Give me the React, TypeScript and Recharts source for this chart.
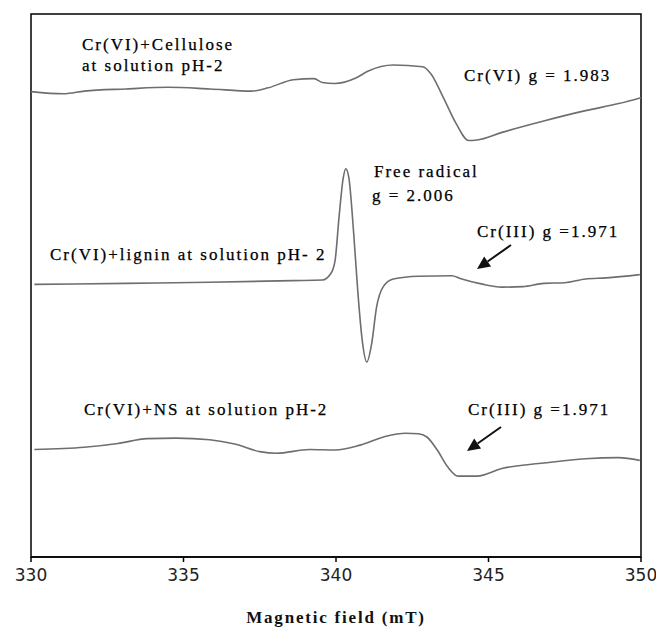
import { LineChart, Line, XAxis, YAxis, Label, ReferenceArea } from 'recharts'

// EPR spectra of Cr(VI) bound to cellulose, lignin and NS (pH 2), intensity in arbitrary units
const fieldTicks = [330, 335, 340, 345, 350]

const fieldCellulose = [330.0, 331.07, 331.75, 333.12, 334.49, 335.86, 337.23, 337.78, 338.6, 339.28, 339.55, 339.96, 340.65, 341.06, 341.88, 342.84, 343.11, 343.52, 343.94, 344.35, 344.62, 345.44, 346.81, 348.18, 349.27, 350.0]
const intensityCellulose = [85.7, 85.3, 85.8, 86.2, 86.5, 86.2, 85.8, 86.4, 87.9, 88.1, 87.4, 87.2, 88.2, 89.5, 90.6, 90.3, 89.0, 84.6, 79.8, 76.7, 76.8, 78.2, 80.3, 82.2, 83.5, 84.6]

const fieldLignin = [330.11, 333.12, 335.86, 338.6, 339.55, 339.83, 339.97, 340.1, 340.24, 340.32, 340.42, 340.58, 340.72, 340.86, 341.01, 341.17, 341.33, 341.54, 341.88, 342.7, 343.8, 344.07, 344.76, 345.44, 346.13, 346.81, 347.49, 348.18, 348.86, 349.96]
const intensityLignin = [50.2, 50.4, 50.6, 50.9, 51.0, 52.2, 54.6, 62.6, 69.9, 71.5, 69.9, 59.6, 48.5, 39.9, 35.9, 39.3, 46.0, 49.7, 51.2, 51.7, 51.8, 51.3, 50.3, 49.7, 49.8, 50.4, 50.5, 51.2, 51.4, 52.0]

const fieldNS = [330.11, 331.75, 332.85, 333.81, 334.76, 335.86, 336.68, 337.5, 338.05, 339.14, 339.97, 340.79, 341.61, 342.29, 342.7, 342.98, 343.32, 343.66, 344.0, 344.62, 345.44, 346.81, 348.18, 349.27, 349.96]
const intensityNS = [19.8, 20.2, 20.9, 21.8, 21.9, 21.6, 20.8, 19.4, 19.1, 19.8, 19.7, 20.6, 22.2, 22.8, 22.7, 22.1, 19.7, 16.6, 14.9, 14.9, 16.3, 17.3, 18.1, 18.3, 17.8]

const toPoints = (fields: number[], values: number[]) =>
  fields.map((field, i) => ({ field, intensity: values[i] }))

const serif = {
  fontFamily: '"Liberation Serif", "Times New Roman", serif',
  fontSize: 17,
  letterSpacing: 2,
  fill: '#000',
  stroke: '#000',
  strokeWidth: 0.25,
}

function Note({ x, y, children }: { x: number; y: number; children: string }) {
  return (
    <text x={x} y={y} style={serif}>
      {children}
    </text>
  )
}

function Arrow({ x1, y1, x2, y2 }: { x1: number; y1: number; x2: number; y2: number }) {
  // arrow head sits at (x2, y2)
  const ang = Math.atan2(y2 - y1, x2 - x1)
  const len = 13
  const w = 6
  const bx = x2 - len * Math.cos(ang)
  const by = y2 - len * Math.sin(ang)
  const px = -Math.sin(ang) * w
  const py = Math.cos(ang) * w
  return (
    <g>
      <line x1={x1} y1={y1} x2={bx} y2={by} stroke="#111" strokeWidth={2} />
      <polygon points={`${x2},${y2} ${bx + px},${by + py} ${bx - px},${by - py}`} fill="#111" />
    </g>
  )
}

export default function App() {
  const cellulose = toPoints(fieldCellulose, intensityCellulose)
  const lignin = toPoints(fieldLignin, intensityLignin)
  const ns = toPoints(fieldNS, intensityNS)

  return (
    <div style={{ position: 'absolute', left: 0, top: 0, width: 656, height: 628, background: '#fff' }}>
      <LineChart width={656} height={628} margin={{ top: 14, right: 15, left: 31, bottom: 0 }}>
        <XAxis
          type="number"
          dataKey="field"
          domain={[330, 350]}
          ticks={fieldTicks}
          allowDataOverflow
          height={71}
          tickSize={5}
          tickMargin={7}
          axisLine={{ stroke: '#000', strokeWidth: 1.5 }}
          tickLine={{ stroke: '#000', strokeWidth: 1.5 }}
          tick={{ fill: '#222', fontSize: 17, fontFamily: '"DejaVu Sans", sans-serif' }}
        >
          <Label
            value="Magnetic field (mT)"
            position="insideBottom"
            offset={5}
            style={{ fontFamily: '"Liberation Serif", serif', fontSize: 17, fontWeight: 700, letterSpacing: 1.8, fill: '#111' }}
          />
        </XAxis>
        <YAxis type="number" domain={[0, 100]} hide />

        <ReferenceArea x1={330} x2={350} y1={0} y2={100} fill="none" fillOpacity={0} stroke="#000" strokeWidth={1.5} />

        <Line data={cellulose} dataKey="intensity" type="monotone" stroke="#6e6e6e" strokeWidth={1.6} dot={false} isAnimationActive={false} />
        <Line data={lignin} dataKey="intensity" type="monotone" stroke="#6e6e6e" strokeWidth={1.6} dot={false} isAnimationActive={false} />
        <Line data={ns} dataKey="intensity" type="monotone" stroke="#6e6e6e" strokeWidth={1.6} dot={false} isAnimationActive={false} />

        <Note x={82} y={50}>Cr(VI)+Cellulose</Note>
        <Note x={82} y={71}>at solution pH-2</Note>
        <Note x={464} y={81}>Cr(VI) g = 1.983</Note>
        <Note x={374} y={177}>Free radical</Note>
        <Note x={372} y={201}>g = 2.006</Note>
        <Note x={477} y={237}>Cr(III) g =1.971</Note>
        <Note x={50} y={260}>Cr(VI)+lignin at solution pH- 2</Note>
        <Note x={84} y={415}>Cr(VI)+NS at solution pH-2</Note>
        <Note x={468} y={415}>Cr(III) g =1.971</Note>
        <Arrow x1={511} y1={245} x2={477} y2={269} />
        <Arrow x1={501} y1={427} x2={467} y2={451} />
      </LineChart>
    </div>
  )
}
